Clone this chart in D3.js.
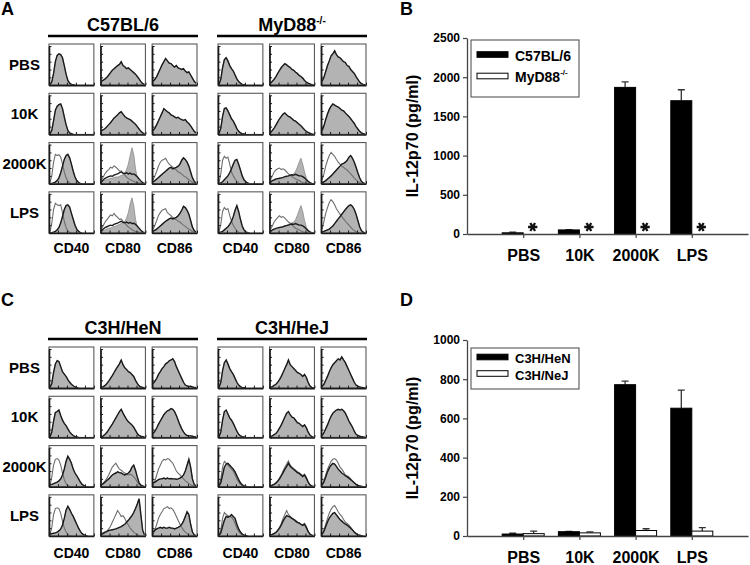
<!DOCTYPE html>
<html><head><meta charset="utf-8">
<script src="https://cdn.jsdelivr.net/npm/d3@7"></script>
<style>
body{margin:0;background:#fff}
svg{display:block}
text{font-family:"Liberation Sans",Arial,Helvetica,sans-serif;font-weight:bold;fill:#000}
</style>
</head><body>
<svg id="c" width="750" height="565"></svg>
<script>
// ---------------- labels ----------------
const rowLabels = ["PBS", "10K", "2000K", "LPS"];
const markerLabels = ["CD40", "CD80", "CD86"];
const barCats = ["PBS", "10K", "2000K", "LPS"];
const ticksB = [0, 500, 1000, 1500, 2000, 2500];
const ticksD = [0, 200, 400, 600, 800, 1000];

// ---------------- IL-12p70 (pg/ml) ----------------
const b6Il12 = [15, 52, 1870, 1700];
const b6Il12Err = [8, 5, 70, 140];
const mydIl12 = [0, 0, 0, 0];
const mydIl12Err = [0, 0, 0, 0];
const mydStar = [true, true, true, true];
const henIl12 = [10, 22, 772, 652];
const henIl12Err = [4, 2, 18, 92];
const hejIl12 = [12, 16, 28, 25];
const hejIl12Err = [13, 5, 9, 18];

// ---------------- histogram profiles (relative counts, 25 bins) ----------------
// C57BL/6 resting
const b6_cd40_pbs = [0.02,0.08,0.3,0.6,0.76,0.8,0.78,0.7,0.5,0.28,0.12,0.05,0.02,0.01,0];
const b6_cd40_10k = [0.02,0.1,0.35,0.62,0.72,0.76,0.78,0.66,0.45,0.25,0.1,0.04,0.02,0];
const b6_cd80_pbs = [0.1,0.13,0.16,0.2,0.26,0.32,0.38,0.42,0.46,0.5,0.53,0.6,0.5,0.47,0.42,0.44,0.4,0.36,0.32,0.28,0.22,0.16,0.09,0.04,0.02];
const b6_cd80_10k = [0.1,0.12,0.15,0.2,0.25,0.3,0.36,0.42,0.46,0.5,0.55,0.58,0.52,0.46,0.42,0.4,0.38,0.34,0.3,0.26,0.2,0.14,0.08,0.04,0.02];
const b6_cd86_pbs = [0.1,0.15,0.22,0.32,0.42,0.52,0.6,0.68,0.62,0.56,0.55,0.5,0.46,0.5,0.44,0.42,0.4,0.42,0.36,0.32,0.34,0.26,0.18,0.1,0.05];
const b6_cd86_10k = [0.1,0.16,0.25,0.35,0.45,0.55,0.66,0.62,0.58,0.55,0.5,0.48,0.45,0.42,0.44,0.4,0.38,0.36,0.38,0.32,0.28,0.22,0.15,0.08,0.04];
// C57BL/6 stimulated
const b6_cd40_open = [0.03,0.2,0.55,0.75,0.72,0.74,0.68,0.5,0.3,0.15,0.06,0.02,0];
const b6_cd40_stim = [0,0.01,0.02,0.04,0.08,0.15,0.28,0.45,0.62,0.72,0.75,0.66,0.5,0.32,0.17,0.08,0.03,0.01,0];
const b6_cd80_open = [0.1,0.18,0.26,0.32,0.36,0.42,0.4,0.46,0.42,0.38,0.32,0.33,0.27,0.22,0.17,0.13,0.1,0.08,0.06,0.04,0.03,0.02,0.01,0];
const b6_cd80_stim = [0.04,0.07,0.09,0.11,0.12,0.14,0.14,0.16,0.17,0.17,0.19,0.21,0.23,0.28,0.36,0.5,0.72,0.92,0.75,0.38,0.15,0.06,0.03,0.01,0];
const b6_cd80_dark = [0.05,0.1,0.14,0.16,0.18,0.2,0.19,0.22,0.24,0.25,0.28,0.3,0.27,0.26,0.28,0.25,0.27,0.24,0.25,0.22,0.18,0.12,0.07,0.03,0.01];
const b6_cd86_open = [0.1,0.2,0.32,0.45,0.55,0.6,0.62,0.65,0.56,0.5,0.46,0.42,0.38,0.35,0.3,0.28,0.25,0.2,0.18,0.14,0.1,0.07,0.04,0.02,0.01];
const b6_cd86_stim = [0.05,0.08,0.12,0.16,0.2,0.24,0.28,0.32,0.36,0.4,0.42,0.38,0.4,0.42,0.45,0.5,0.6,0.66,0.62,0.55,0.45,0.3,0.15,0.06,0.02];
const b6_cd40_open_lps = [0.03,0.25,0.6,0.76,0.72,0.7,0.72,0.52,0.3,0.14,0.05,0.02,0];
const b6_cd40_stim_lps = [0,0.01,0.02,0.04,0.08,0.14,0.26,0.42,0.6,0.7,0.72,0.66,0.5,0.35,0.2,0.1,0.04,0.01,0];
const b6_cd80_open_lps = [0.1,0.2,0.28,0.34,0.4,0.46,0.44,0.5,0.44,0.4,0.35,0.36,0.3,0.25,0.2,0.15,0.12,0.09,0.06,0.04,0.03,0.02,0.01,0];
const b6_cd80_stim_lps = [0.04,0.06,0.08,0.1,0.12,0.13,0.15,0.16,0.18,0.2,0.22,0.24,0.26,0.3,0.38,0.52,0.74,0.9,0.7,0.35,0.14,0.06,0.03,0.01,0];
const b6_cd86_open_lps = [0.1,0.2,0.32,0.45,0.52,0.58,0.6,0.62,0.52,0.48,0.44,0.4,0.36,0.34,0.3,0.28,0.24,0.2,0.17,0.13,0.1,0.07,0.04,0.02,0.01];
const b6_cd86_stim_lps = [0.05,0.07,0.1,0.14,0.18,0.22,0.26,0.3,0.33,0.36,0.38,0.36,0.38,0.4,0.44,0.5,0.58,0.68,0.65,0.58,0.48,0.32,0.15,0.06,0.02];
// MyD88-/- resting
const myd_cd40_pbs = [0.02,0.15,0.45,0.65,0.7,0.62,0.5,0.42,0.36,0.26,0.16,0.09,0.05,0.02,0.01,0];
const myd_cd40_10k = [0.02,0.16,0.46,0.66,0.68,0.6,0.5,0.4,0.34,0.25,0.15,0.08,0.04,0.02,0.01,0];
const myd_cd80_pbs = [0.05,0.1,0.15,0.22,0.3,0.38,0.45,0.5,0.55,0.52,0.48,0.45,0.4,0.38,0.33,0.3,0.25,0.22,0.18,0.12,0.08,0.05,0.03,0.01,0];
const myd_cd80_10k = [0.05,0.1,0.16,0.24,0.32,0.4,0.46,0.52,0.55,0.5,0.46,0.44,0.4,0.36,0.34,0.3,0.26,0.22,0.17,0.12,0.08,0.05,0.03,0.01,0];
const myd_cd86_pbs = [0.1,0.2,0.35,0.5,0.62,0.75,0.8,0.88,0.78,0.72,0.7,0.65,0.6,0.58,0.5,0.48,0.4,0.35,0.3,0.22,0.15,0.08,0.04,0.02,0.01];
const myd_cd86_10k = [0.1,0.22,0.38,0.52,0.64,0.72,0.78,0.75,0.72,0.7,0.66,0.62,0.6,0.55,0.5,0.46,0.4,0.34,0.28,0.2,0.14,0.08,0.04,0.02,0.01];
// MyD88-/- stimulated
const myd_cd40_open = [0.02,0.25,0.6,0.7,0.65,0.68,0.5,0.3,0.2,0.12,0.06,0.02,0];
const myd_cd40_stim = [0,0.02,0.05,0.1,0.15,0.2,0.28,0.38,0.5,0.6,0.62,0.5,0.35,0.2,0.1,0.05,0.02,0];
const myd_cd80_open = [0.1,0.2,0.3,0.35,0.38,0.4,0.36,0.38,0.35,0.3,0.25,0.22,0.18,0.15,0.12,0.1,0.08,0.05,0.03,0.02,0.01,0];
const myd_cd80_stim = [0.05,0.07,0.08,0.1,0.1,0.12,0.13,0.14,0.15,0.16,0.18,0.2,0.22,0.25,0.32,0.42,0.55,0.65,0.5,0.3,0.15,0.07,0.03,0.01,0];
const myd_cd80_dark = [0.04,0.08,0.1,0.12,0.13,0.14,0.15,0.16,0.18,0.19,0.2,0.22,0.23,0.22,0.24,0.22,0.2,0.2,0.18,0.15,0.1,0.06,0.03,0.01,0];
const myd_cd86_open = [0.1,0.25,0.45,0.6,0.72,0.8,0.75,0.7,0.62,0.55,0.5,0.45,0.42,0.38,0.35,0.3,0.25,0.2,0.14,0.1,0.06,0.03,0.01,0];
const myd_cd86_stim = [0.03,0.05,0.08,0.12,0.16,0.2,0.25,0.3,0.35,0.4,0.45,0.5,0.52,0.55,0.6,0.68,0.72,0.65,0.55,0.42,0.28,0.15,0.06,0.02,0];
const myd_cd40_open_lps = [0.02,0.22,0.55,0.65,0.6,0.62,0.45,0.3,0.2,0.12,0.06,0.02,0];
const myd_cd40_stim_lps = [0,0.02,0.04,0.08,0.12,0.16,0.22,0.3,0.42,0.58,0.7,0.55,0.35,0.18,0.08,0.03,0.01,0];
const myd_cd80_open_lps = [0.1,0.18,0.28,0.34,0.4,0.44,0.4,0.42,0.38,0.33,0.28,0.25,0.2,0.16,0.12,0.1,0.08,0.05,0.03,0.02,0.01,0];
const myd_cd80_stim_lps = [0.04,0.06,0.08,0.1,0.12,0.14,0.15,0.16,0.18,0.2,0.22,0.24,0.26,0.28,0.34,0.45,0.58,0.7,0.55,0.32,0.16,0.07,0.03,0.01,0];
const myd_cd86_open_lps = [0.1,0.3,0.5,0.65,0.78,0.85,0.8,0.72,0.62,0.55,0.48,0.42,0.36,0.3,0.25,0.2,0.15,0.1,0.06,0.03,0.01,0];
const myd_cd86_stim_lps = [0.02,0.04,0.06,0.08,0.1,0.14,0.18,0.24,0.3,0.36,0.42,0.48,0.54,0.6,0.65,0.7,0.72,0.68,0.6,0.48,0.32,0.16,0.06,0.02,0];
// C3H/HeN resting
const hen_cd40_pbs = [0.02,0.12,0.4,0.62,0.7,0.68,0.55,0.42,0.36,0.3,0.22,0.15,0.1,0.06,0.03,0.01,0];
const hen_cd40_10k = [0.02,0.14,0.42,0.64,0.66,0.7,0.56,0.44,0.36,0.3,0.22,0.14,0.09,0.05,0.02,0.01,0];
const hen_cd80_pbs = [0.02,0.04,0.07,0.12,0.18,0.25,0.32,0.4,0.48,0.55,0.62,0.72,0.6,0.52,0.48,0.42,0.4,0.35,0.3,0.2,0.12,0.06,0.03,0.02,0.01];
const hen_cd80_10k = [0.02,0.04,0.08,0.13,0.2,0.27,0.34,0.42,0.5,0.58,0.66,0.72,0.62,0.54,0.46,0.4,0.36,0.32,0.26,0.18,0.1,0.05,0.03,0.02,0.01];
const hen_cd86_pbs = [0.12,0.18,0.25,0.35,0.42,0.5,0.55,0.62,0.65,0.7,0.72,0.75,0.68,0.55,0.45,0.35,0.25,0.15,0.08,0.06,0.04,0.05,0.03,0.02,0.01];
const hen_cd86_10k = [0.1,0.16,0.24,0.34,0.42,0.5,0.58,0.64,0.68,0.7,0.74,0.72,0.66,0.56,0.44,0.32,0.22,0.14,0.08,0.05,0.04,0.04,0.03,0.02,0.01];
// C3H/HeN stimulated
const hen_cd40_open = [0.02,0.25,0.55,0.7,0.72,0.68,0.55,0.35,0.18,0.08,0.03,0.01,0];
const hen_cd40_stim = [0.05,0.06,0.08,0.1,0.12,0.15,0.2,0.3,0.45,0.65,0.78,0.7,0.6,0.45,0.35,0.28,0.2,0.12,0.06,0.03,0.01,0];
const hen_cd80_open = [0.05,0.1,0.15,0.22,0.3,0.4,0.5,0.55,0.6,0.52,0.45,0.42,0.38,0.35,0.32,0.3,0.32,0.3,0.25,0.2,0.12,0.06,0.03,0.01,0];
const hen_cd80_stim = [0.05,0.08,0.12,0.16,0.2,0.25,0.3,0.33,0.35,0.38,0.36,0.35,0.32,0.3,0.32,0.35,0.4,0.5,0.55,0.42,0.25,0.1,0.04,0.02,0];
const hen_cd86_open = [0.05,0.15,0.3,0.45,0.55,0.65,0.7,0.68,0.72,0.7,0.65,0.6,0.5,0.4,0.35,0.3,0.25,0.2,0.15,0.12,0.08,0.05,0.03,0.01,0];
const hen_cd86_stim = [0.1,0.12,0.15,0.18,0.2,0.2,0.22,0.2,0.22,0.2,0.21,0.2,0.2,0.19,0.2,0.22,0.25,0.3,0.4,0.55,0.7,0.5,0.2,0.06,0.02];
const hen_cd40_open_lps = [0.02,0.22,0.55,0.7,0.72,0.7,0.58,0.38,0.2,0.1,0.04,0.01,0];
const hen_cd40_stim_lps = [0.05,0.06,0.07,0.08,0.1,0.13,0.18,0.28,0.45,0.66,0.76,0.68,0.58,0.5,0.4,0.3,0.2,0.12,0.06,0.03,0.01,0];
const hen_cd80_open_lps = [0.03,0.05,0.08,0.12,0.18,0.25,0.35,0.45,0.55,0.65,0.58,0.5,0.52,0.45,0.35,0.28,0.2,0.15,0.1,0.06,0.03,0.01,0];
const hen_cd80_stim_lps = [0.05,0.08,0.1,0.12,0.14,0.15,0.16,0.17,0.18,0.2,0.22,0.24,0.27,0.3,0.35,0.4,0.46,0.52,0.6,0.7,0.82,0.95,0.55,0.15,0.03];
const hen_cd86_open_lps = [0.05,0.15,0.3,0.45,0.55,0.62,0.7,0.72,0.75,0.7,0.72,0.68,0.6,0.5,0.4,0.3,0.22,0.15,0.1,0.06,0.03,0.02,0.01,0];
const hen_cd86_stim_lps = [0.1,0.15,0.18,0.2,0.22,0.2,0.22,0.2,0.2,0.22,0.2,0.2,0.18,0.2,0.22,0.25,0.3,0.38,0.5,0.62,0.55,0.3,0.1,0.03,0.01];
// C3H/HeJ resting
const hej_cd40_pbs = [0.02,0.15,0.45,0.65,0.72,0.62,0.5,0.42,0.35,0.25,0.15,0.08,0.04,0.02,0.01,0];
const hej_cd40_10k = [0.02,0.14,0.44,0.66,0.7,0.6,0.5,0.44,0.36,0.26,0.16,0.08,0.04,0.02,0.01,0];
const hej_cd80_pbs = [0.02,0.04,0.07,0.1,0.15,0.22,0.3,0.4,0.5,0.6,0.72,0.6,0.55,0.5,0.45,0.4,0.38,0.35,0.3,0.35,0.28,0.15,0.06,0.02,0.01];
const hej_cd80_10k = [0.02,0.04,0.07,0.1,0.16,0.24,0.32,0.42,0.52,0.62,0.66,0.58,0.52,0.5,0.44,0.38,0.36,0.32,0.28,0.32,0.25,0.14,0.06,0.02,0.01];
const hej_cd86_pbs = [0.05,0.1,0.2,0.3,0.42,0.52,0.6,0.65,0.7,0.75,0.72,0.8,0.72,0.65,0.55,0.45,0.35,0.25,0.15,0.08,0.05,0.03,0.02,0.01,0];
const hej_cd86_10k = [0.05,0.12,0.22,0.32,0.44,0.54,0.62,0.66,0.7,0.72,0.7,0.72,0.68,0.62,0.52,0.42,0.34,0.26,0.16,0.08,0.05,0.03,0.02,0.01,0];
// C3H/HeJ stimulated
const hej_cd40_open = [0.02,0.2,0.5,0.65,0.6,0.55,0.5,0.45,0.4,0.3,0.2,0.12,0.06,0.03,0.01,0];
const hej_cd40_stim = [0.02,0.1,0.3,0.5,0.58,0.6,0.55,0.5,0.45,0.38,0.28,0.18,0.1,0.05,0.02,0.01,0];
const hej_cd80_open = [0.02,0.04,0.07,0.1,0.15,0.22,0.3,0.4,0.5,0.58,0.66,0.55,0.5,0.46,0.42,0.38,0.36,0.32,0.28,0.32,0.25,0.13,0.05,0.02,0.01];
const hej_cd80_stim = [0.02,0.04,0.06,0.09,0.14,0.2,0.28,0.36,0.45,0.52,0.6,0.52,0.48,0.44,0.4,0.36,0.34,0.3,0.26,0.3,0.22,0.12,0.05,0.02,0.01];
const hej_cd86_open = [0.05,0.15,0.3,0.45,0.55,0.65,0.7,0.72,0.68,0.6,0.5,0.45,0.38,0.3,0.28,0.25,0.2,0.15,0.1,0.06,0.03,0.02,0.01,0];
const hej_cd86_stim = [0.05,0.12,0.25,0.38,0.48,0.55,0.6,0.58,0.52,0.45,0.4,0.35,0.32,0.28,0.25,0.22,0.18,0.14,0.1,0.06,0.03,0.02,0.01,0];
const hej_cd40_open_lps = [0.02,0.15,0.45,0.6,0.55,0.52,0.5,0.48,0.42,0.32,0.2,0.12,0.06,0.03,0.01,0];
const hej_cd40_stim_lps = [0.02,0.08,0.25,0.4,0.5,0.48,0.5,0.55,0.5,0.45,0.3,0.18,0.1,0.05,0.02,0.01,0];
const hej_cd80_open_lps = [0.02,0.04,0.07,0.1,0.15,0.22,0.32,0.45,0.55,0.65,0.55,0.5,0.45,0.42,0.4,0.36,0.34,0.3,0.28,0.32,0.24,0.12,0.05,0.02,0.01];
const hej_cd80_stim_lps = [0.02,0.04,0.06,0.09,0.14,0.2,0.28,0.38,0.46,0.52,0.5,0.48,0.45,0.42,0.38,0.35,0.33,0.3,0.27,0.3,0.22,0.12,0.05,0.02,0.01];
const hej_cd86_open_lps = [0.05,0.15,0.3,0.45,0.58,0.68,0.75,0.78,0.7,0.62,0.55,0.5,0.42,0.35,0.32,0.28,0.22,0.16,0.1,0.06,0.03,0.02,0.01,0];
const hej_cd86_stim_lps = [0.05,0.12,0.24,0.36,0.46,0.52,0.58,0.6,0.54,0.48,0.42,0.38,0.34,0.3,0.28,0.24,0.2,0.15,0.1,0.06,0.03,0.02,0.01,0];

// ---------------- cell tables built from the profiles ----------------
const rest = p => ({fill: p, dark: p, open: null});
const stim = (o, f, d) => ({fill: f, dark: d || f, open: o});
const b6Cells = [
  [rest(b6_cd40_pbs), rest(b6_cd80_pbs), rest(b6_cd86_pbs)],
  [rest(b6_cd40_10k), rest(b6_cd80_10k), rest(b6_cd86_10k)],
  [stim(b6_cd40_open, b6_cd40_stim), stim(b6_cd80_open, b6_cd80_stim, b6_cd80_dark), stim(b6_cd86_open, b6_cd86_stim)],
  [stim(b6_cd40_open_lps, b6_cd40_stim_lps), stim(b6_cd80_open_lps, b6_cd80_stim_lps, b6_cd80_dark), stim(b6_cd86_open_lps, b6_cd86_stim_lps)]
];
const mydCells = [
  [rest(myd_cd40_pbs), rest(myd_cd80_pbs), rest(myd_cd86_pbs)],
  [rest(myd_cd40_10k), rest(myd_cd80_10k), rest(myd_cd86_10k)],
  [stim(myd_cd40_open, myd_cd40_stim), stim(myd_cd80_open, myd_cd80_stim, myd_cd80_dark), stim(myd_cd86_open, myd_cd86_stim)],
  [stim(myd_cd40_open_lps, myd_cd40_stim_lps), stim(myd_cd80_open_lps, myd_cd80_stim_lps, myd_cd80_dark), stim(myd_cd86_open_lps, myd_cd86_stim_lps)]
];
const henCells = [
  [rest(hen_cd40_pbs), rest(hen_cd80_pbs), rest(hen_cd86_pbs)],
  [rest(hen_cd40_10k), rest(hen_cd80_10k), rest(hen_cd86_10k)],
  [stim(hen_cd40_open, hen_cd40_stim), stim(hen_cd80_open, hen_cd80_stim), stim(hen_cd86_open, hen_cd86_stim)],
  [stim(hen_cd40_open_lps, hen_cd40_stim_lps), stim(hen_cd80_open_lps, hen_cd80_stim_lps), stim(hen_cd86_open_lps, hen_cd86_stim_lps)]
];
const hejCells = [
  [rest(hej_cd40_pbs), rest(hej_cd80_pbs), rest(hej_cd86_pbs)],
  [rest(hej_cd40_10k), rest(hej_cd80_10k), rest(hej_cd86_10k)],
  [stim(hej_cd40_open, hej_cd40_stim), stim(hej_cd80_open, hej_cd80_stim), stim(hej_cd86_open, hej_cd86_stim)],
  [stim(hej_cd40_open_lps, hej_cd40_stim_lps), stim(hej_cd80_open_lps, hej_cd80_stim_lps), stim(hej_cd86_open_lps, hej_cd86_stim_lps)]
];

// ---------------- drawing ----------------
const svg = d3.select("#c");
svg.append("rect").attr("width", 750).attr("height", 565).attr("fill", "#fff");
let clipId = 0;

function panelLetter(letter, x, y) {
  svg.append("text").attr("x", x).attr("y", y).attr("font-size", 18).text(letter);
}

function histPanel(rowRange, groups, labelY) {
  const rowScale = d3.scaleBand().domain(rowLabels).range(rowRange).paddingInner(0.165).paddingOuter(0);
  const top = rowRange[0];
  svg.append("g").selectAll("text").data(rowLabels).join("text")
    .attr("x", 24.5).attr("y", d => rowScale(d) + rowScale.bandwidth() / 2)
    .attr("text-anchor", "middle").attr("dominant-baseline", "central")
    .attr("font-size", 15).text(d => d);

  groups.forEach(grp => {
    const colScale = d3.scaleBand().domain(markerLabels).range(grp.range).paddingInner(0.13).paddingOuter(0);
    const cx = (grp.range[0] + grp.range[1]) / 2;
    const t = svg.append("text").attr("x", cx).attr("y", top - 13).attr("text-anchor", "middle").attr("font-size", 18);
    t.append("tspan").text(grp.title);
    if (grp.sup) t.append("tspan").attr("dy", -7).attr("font-size", 10).text(grp.sup);
    svg.append("line").attr("x1", grp.range[0] - 1).attr("x2", grp.range[1] + 1)
      .attr("y1", top - 8).attr("y2", top - 8).attr("stroke", "#000").attr("stroke-width", 2.6);
    svg.append("g").selectAll("text").data(markerLabels).join("text")
      .attr("x", d => colScale(d) + colScale.bandwidth() / 2).attr("y", labelY)
      .attr("text-anchor", "middle").attr("font-size", 14).text(d => d);

    rowLabels.forEach((r, ri) => {
      markerLabels.forEach((m, ci) => {
        const cell = grp.cells[ri][ci];
        const x0 = colScale(m), w = colScale.bandwidth();
        const y0 = rowScale(r), h = rowScale.bandwidth();
        const hx = d3.scaleLinear().domain([0, 24]).range([x0 + 1, x0 + w - 1]);
        const hy = d3.scaleLinear().domain([0, 1]).range([y0 + h, y0 + 2]);
        const id = "clip" + (clipId++);
        svg.append("clipPath").attr("id", id).append("rect")
          .attr("x", x0).attr("y", y0).attr("width", w).attr("height", h);
        const g = svg.append("g").attr("clip-path", `url(#${id})`);
        const area = d3.area().x((d, i) => hx(i)).y0(hy(0)).y1(d => hy(d));
        const line = d3.line().x((d, i) => hx(i)).y(d => hy(d));
        g.append("path").datum(cell.fill).attr("d", area)
          .attr("fill", "#b3b3b3").attr("stroke", "#8a8a8a").attr("stroke-width", 0.8);
        if (cell.open) g.append("path").datum(cell.open).attr("d", line)
          .attr("fill", "none").attr("stroke", "#6e6e6e").attr("stroke-width", 1.1);
        g.append("path").datum(cell.dark).attr("d", line)
          .attr("fill", "none").attr("stroke", "#1a1a1a").attr("stroke-width", 1.4);
        svg.append("rect").attr("x", x0).attr("y", y0).attr("width", w).attr("height", h)
          .attr("fill", "none").attr("stroke", "#5a5a5a").attr("stroke-width", 1.1);
        const ax = svg.append("g").attr("transform", `translate(${x0},0)`)
          .call(d3.axisLeft(hy).ticks(5).tickSize(-2.5).tickSizeOuter(0).tickFormat(""));
        const bx = svg.append("g").attr("transform", `translate(0,${y0 + h})`)
          .call(d3.axisBottom(d3.scaleLinear().domain([0, 1]).range([x0, x0 + w])).ticks(5).tickSize(-2.5).tickSizeOuter(0).tickFormat(""));
        [ax, bx].forEach(a => {
          a.select(".domain").attr("stroke", "#1a1a1a").attr("stroke-width", 1.6);
          a.selectAll(".tick line").attr("stroke", "#1a1a1a").attr("stroke-width", 1);
        });
      });
    });
  });
}

function barChart(opt) {
  const x = d3.scalePoint().domain(barCats).range([467, 748]).padding(1);
  const y = d3.scaleLinear().domain([0, opt.max]).range(opt.yRange);
  const bw = 21;
  const g = svg.append("g");
  opt.series.forEach((s, si) => {
    const sx = c => si === 0 ? x(c) - bw : x(c);
    g.append("g").selectAll("path").data(barCats.filter((c, i) => s.err[i] > 0)).join("path")
      .attr("d", c => {
        const i = barCats.indexOf(c);
        const cxx = sx(c) + bw / 2, yt = y(s.values[i]), ye = y(s.values[i] + s.err[i]);
        return `M${cxx},${yt}V${ye}M${cxx - 3.5},${ye}H${cxx + 3.5}`;
      })
      .attr("stroke", "#333").attr("stroke-width", 1.3).attr("fill", "none");
    g.append("g").selectAll("rect").data(barCats.filter((c, i) => s.values[i] > 0)).join("rect")
      .attr("x", c => sx(c)).attr("width", bw)
      .attr("y", c => y(s.values[barCats.indexOf(c)]))
      .attr("height", c => y(0) - y(s.values[barCats.indexOf(c)]))
      .attr("fill", s.fill).attr("stroke", "#000").attr("stroke-width", 1);
    if (s.star) {
      const hasAst = !!d3.symbolAsterisk;
      const sym = d3.symbol().type(hasAst ? d3.symbolAsterisk : d3.symbolCross).size(hasAst ? 60 : 30);
      g.append("g").selectAll("path").data(barCats.filter((c, i) => s.star[i])).join("path")
        .attr("transform", c => `translate(${sx(c) + bw / 2 - 1},${y(0) - 7}) rotate(90)`)
        .attr("d", sym).attr("fill", hasAst ? "none" : "#000")
        .attr("stroke", "#111").attr("stroke-width", 2.3);
    }
  });
  const ya = svg.append("g").attr("transform", "translate(467,0)")
    .call(d3.axisLeft(y).tickValues(opt.ticks).tickFormat(d3.format("d")).tickSize(4).tickPadding(3).tickSizeOuter(0));
  ya.selectAll("text").attr("font-size", 12).attr("fill", "#000");
  const xa = svg.append("g").attr("transform", `translate(0,${y(0)})`)
    .call(d3.axisBottom(x).tickSize(4).tickPadding(opt.labelPad).tickSizeOuter(0));
  xa.selectAll("text").attr("font-size", 16).attr("fill", "#000");
  [ya, xa].forEach(a => {
    a.attr("font-family", null).attr("font-size", null);
    a.select(".domain").attr("stroke", "#444").attr("stroke-width", 1.3);
    a.selectAll(".tick line").attr("stroke", "#444").attr("stroke-width", 1.2);
  });
  const ym = (opt.yRange[0] + opt.yRange[1]) / 2;
  svg.append("text").attr("transform", `translate(412,${ym}) rotate(-90)`)
    .attr("text-anchor", "middle").attr("dominant-baseline", "central")
    .attr("font-size", 16).text("IL-12p70 (pg/ml)");
  const L = opt.legend;
  svg.append("rect").attr("x", 471).attr("y", L.top).attr("width", 108).attr("height", L.h)
    .attr("fill", "#fff").attr("stroke", "#555").attr("stroke-width", 1.1);
  opt.series.forEach((s, si) => {
    const yy = L.top + L.first + si * L.gap;
    svg.append("rect").attr("x", 477).attr("y", yy - 2.8).attr("width", 31).attr("height", 5.6)
      .attr("fill", s.fill).attr("stroke", "#000").attr("stroke-width", 1);
    const t = svg.append("text").attr("x", 515).attr("y", yy + 1).attr("dominant-baseline", "central")
      .attr("font-size", L.fs);
    t.append("tspan").text(s.name);
    if (s.sup) t.append("tspan").attr("dy", -5).attr("font-size", 8).text(s.sup);
  });
}

panelLetter("A", 1, 15);
histPanel([44, 233], [
  {title: "C57BL/6", range: [49, 197], cells: b6Cells},
  {title: "MyD88", sup: "-/-", range: [218, 366], cells: mydCells}
], 253);
panelLetter("C", 1, 305.5);
histPanel([347, 536], [
  {title: "C3H/HeN", range: [49, 197], cells: henCells},
  {title: "C3H/HeJ", range: [218, 366], cells: hejCells}
], 558);

panelLetter("B", 400, 15);
barChart({
  max: 2500, yRange: [234, 38], ticks: ticksB, labelPad: 12,
  series: [
    {name: "C57BL/6", values: b6Il12, err: b6Il12Err, fill: "#000"},
    {name: "MyD88", sup: "-/-", values: mydIl12, err: mydIl12Err, fill: "#fff", star: mydStar}
  ],
  legend: {top: 40, h: 57, first: 14.5, gap: 21.5, fs: 14}
});
panelLetter("D", 400, 305.5);
barChart({
  max: 1000, yRange: [536, 340], ticks: ticksD, labelPad: 12,
  series: [
    {name: "C3H/HeN", values: henIl12, err: henIl12Err, fill: "#000"},
    {name: "C3H/NeJ", values: hejIl12, err: hejIl12Err, fill: "#fff"}
  ],
  legend: {top: 348, h: 41, first: 9, gap: 16.5, fs: 13}
});
</script>
</body></html>
